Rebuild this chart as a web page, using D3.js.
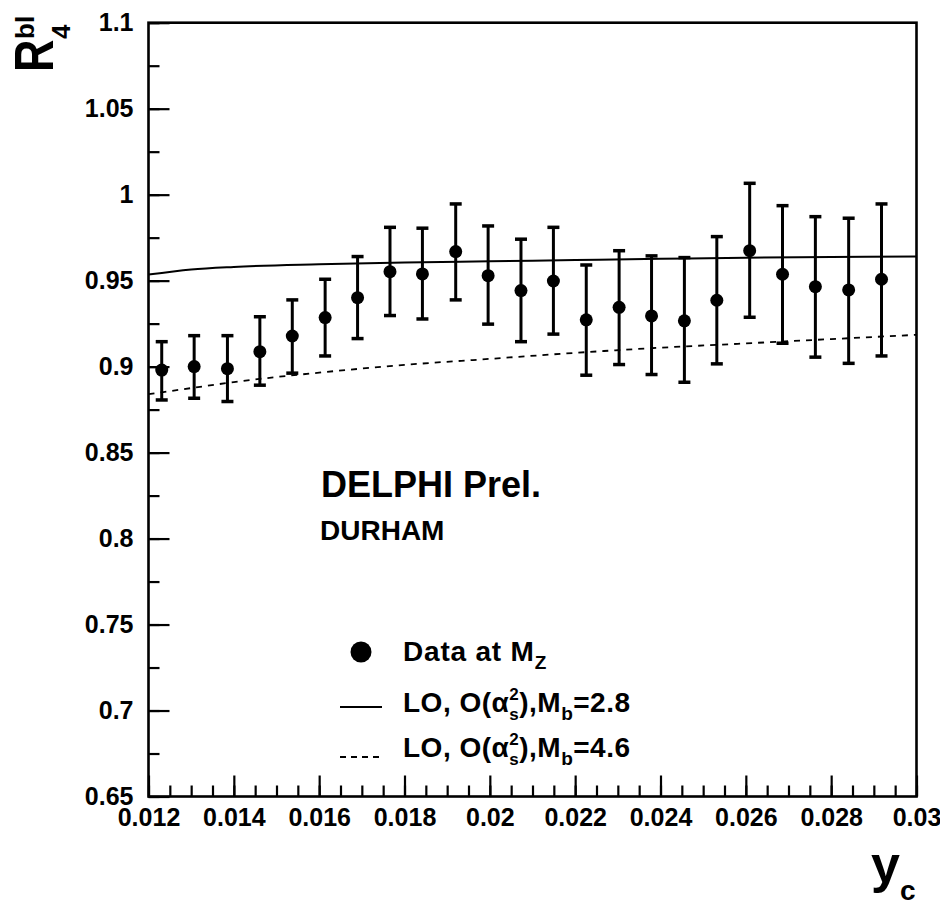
<!DOCTYPE html>
<html><head><meta charset="utf-8">
<script src="https://cdn.jsdelivr.net/npm/d3@7/dist/d3.min.js"></script>
<style>
body{margin:0;background:#fff}
text{font-family:"Liberation Sans",Arial,Helvetica,sans-serif;fill:#000}
</style>
</head><body>
<svg id="c" width="940" height="916"></svg>
<script>
// ---- data ----
const ycValues = [0.01231,0.01307,0.01385,0.01461,0.01537,0.01614,0.01690,0.01766,0.01842,0.01920,0.01996,0.02073,0.02149,0.02226,0.02303,0.02379,0.02456,0.02532,0.02609,0.02686,0.02763,0.02841,0.02918];
const r4Values = [0.898,0.900,0.8988,0.9087,0.9178,0.9285,0.9401,0.9552,0.9539,0.9669,0.9529,0.9442,0.9498,0.9272,0.9345,0.9295,0.9266,0.9386,0.9674,0.9537,0.9465,0.9446,0.9508];
const errHigh  = [0.9145,0.918,0.918,0.929,0.9388,0.9508,0.964,0.981,0.9805,0.9946,0.9818,0.9741,0.981,0.9591,0.9674,0.9644,0.9634,0.9756,1.0066,0.9936,0.9872,0.9863,0.9946];
const errLow   = [0.8806,0.8816,0.8797,0.8892,0.8962,0.9062,0.9163,0.9297,0.9277,0.9388,0.9247,0.9145,0.9189,0.895,0.9012,0.8954,0.8909,0.9016,0.9287,0.9136,0.9055,0.9019,0.9062];
const curveX    = [0.012,0.013,0.014,0.016,0.018,0.020,0.022,0.024,0.026,0.028,0.030];
const curveMb28 = [0.9535,0.9565,0.9580,0.9595,0.9605,0.9612,0.9620,0.9627,0.9633,0.9637,0.9640];
const curveMb46 = [0.8840,0.8875,0.8910,0.8965,0.9010,0.9045,0.9080,0.9110,0.9135,0.9160,0.9185];
const xTicks = [0.012,0.014,0.016,0.018,0.020,0.022,0.024,0.026,0.028,0.030];
const xTickLabels = ["0.012","0.014","0.016","0.018","0.02","0.022","0.024","0.026","0.028","0.03"];
const xMinorTicks = d3.range(0,37).map(i=>0.012+i*0.0005);
const yTicks = [0.65,0.70,0.75,0.80,0.85,0.90,0.95,1.00,1.05,1.10];
const yTickLabels = ["0.65","0.7","0.75","0.8","0.85","0.9","0.95","1","1.05","1.1"];
const yMinorTicks = d3.range(0,19).map(i=>0.65+i*0.025);

// ---- chart ----
const svg = d3.select("#c");
const L=148.5, R=916.5, T=22.7, B=796.5;
const x = d3.scaleLinear().domain([0.012,0.03]).range([L,R]);
const y = d3.scaleLinear().domain([0.65,1.1]).range([B,T]);

function styleAxis(g){
  g.select(".domain").remove();
  g.selectAll(".tick line").attr("stroke","#000").attr("stroke-width",2.2);
  g.selectAll("text").attr("font-family",'"Liberation Sans",Arial,sans-serif')
    .attr("font-size",25).attr("font-weight","bold").attr("fill","#000");
}

// minor ticks
svg.append("g").attr("transform",`translate(0,${B})`)
  .call(d3.axisBottom(x).tickValues(xMinorTicks).tickSize(-11).tickFormat(""))
  .call(styleAxis);
svg.append("g").attr("transform",`translate(${L},0)`)
  .call(d3.axisLeft(y).tickValues(yMinorTicks).tickSize(-11).tickFormat(""))
  .call(styleAxis);
// major ticks
svg.append("g").attr("transform",`translate(0,${B})`)
  .call(d3.axisBottom(x).tickValues(xTicks).tickSize(-21).tickPadding(12)
        .tickFormat((d,i)=>xTickLabels[i]))
  .call(styleAxis);
svg.append("g").attr("transform",`translate(${L},0)`)
  .call(d3.axisLeft(y).tickValues(yTicks).tickSize(-21).tickPadding(15)
        .tickFormat((d,i)=>yTickLabels[i]))
  .call(styleAxis);

// frame
svg.append("rect").attr("x",L).attr("y",T).attr("width",R-L).attr("height",B-T)
  .attr("fill","none").attr("stroke","#000").attr("stroke-width",2.6);

// curves
const line = d3.line().x(d=>x(d[0])).y(d=>y(d[1])).curve(d3.curveMonotoneX);
svg.append("path").datum(curveX.map((v,i)=>[v,curveMb28[i]]))
  .attr("d",line).attr("fill","none").attr("stroke","#000").attr("stroke-width",2);
svg.append("path").datum(curveX.map((v,i)=>[v,curveMb46[i]]))
  .attr("d",line).attr("fill","none").attr("stroke","#000").attr("stroke-width",1.8)
  .attr("stroke-dasharray","6,6");

// data with error bars
const pts = ycValues.map((v,i)=>({x:v,y:r4Values[i],hi:errHigh[i],lo:errLow[i]}));
const pg = svg.append("g");
pg.selectAll("line.eb").data(pts).join("line").attr("class","eb")
  .attr("x1",d=>x(d.x)).attr("x2",d=>x(d.x))
  .attr("y1",d=>y(d.lo)).attr("y2",d=>y(d.hi))
  .attr("stroke","#000").attr("stroke-width",3);
pg.selectAll("line.cap-h").data(pts).join("line").attr("class","cap-h")
  .attr("x1",d=>x(d.x)-6).attr("x2",d=>x(d.x)+6)
  .attr("y1",d=>y(d.hi)).attr("y2",d=>y(d.hi))
  .attr("stroke","#000").attr("stroke-width",3.5);
pg.selectAll("line.cap-l").data(pts).join("line").attr("class","cap-l")
  .attr("x1",d=>x(d.x)-6).attr("x2",d=>x(d.x)+6)
  .attr("y1",d=>y(d.lo)).attr("y2",d=>y(d.lo))
  .attr("stroke","#000").attr("stroke-width",3.5);
pg.selectAll("circle").data(pts).join("circle")
  .attr("cx",d=>x(d.x)).attr("cy",d=>y(d.y)).attr("r",6.5).attr("fill","#000");

// texts
svg.append("text").attr("x",321).attr("y",497).attr("font-size",36).attr("font-weight","bold")
  .text("DELPHI Prel.");
svg.append("text").attr("x",320).attr("y",540).attr("font-size",28).attr("font-weight","bold")
  .text("DURHAM");

// legend
const lg = svg.append("g");
lg.append("circle").attr("cx",361).attr("cy",652).attr("r",10.5).attr("fill","#000");
const t1 = lg.append("text").attr("x",403).attr("y",661).attr("font-size",28).attr("font-weight","bold")
  .attr("letter-spacing",0.8);
t1.append("tspan").text("Data at M");
t1.append("tspan").attr("font-size",19).attr("dy",8).text("Z");

lg.append("line").attr("x1",340).attr("x2",382).attr("y1",707).attr("y2",707)
  .attr("stroke","#000").attr("stroke-width",2);
lg.append("line").attr("x1",340).attr("x2",382).attr("y1",757).attr("y2",757)
  .attr("stroke","#000").attr("stroke-width",2).attr("stroke-dasharray","6,5");

function loLabel(yb, mb){
  const t = lg.append("text").attr("x",403).attr("y",yb).attr("font-size",28).attr("font-weight","bold")
    .attr("letter-spacing",0.5);
  t.append("tspan").text("LO, O(α");
  t.append("tspan").attr("font-size",17).attr("dy",8).text("s");
  t.append("tspan").attr("font-size",17).attr("dx",-10).attr("dy",-20).text("2");
  t.append("tspan").attr("dy",12).text("),M");
  t.append("tspan").attr("font-size",19).attr("dy",8).text("b");
  t.append("tspan").attr("dy",-8).text("="+mb);
}
loLabel(712,"2.8");
loLabel(757,"4.6");

// y axis title  R^{bl}_4
const yt = svg.append("g").attr("transform","translate(53,72) rotate(-90)");
yt.append("text").attr("transform","scale(0.8,1)").attr("font-size",56).attr("font-weight","bold").text("R");
yt.append("text").attr("x",33).attr("y",-19).attr("font-size",26).attr("font-weight","bold").text("bl");
yt.append("text").attr("x",33).attr("y",17).attr("font-size",26).attr("font-weight","bold").text("4");

// x axis title y_c
const xt = svg.append("text").attr("x",871).attr("y",882).attr("font-size",52).attr("font-weight","bold");
xt.append("tspan").text("y");
xt.append("tspan").attr("font-size",28).attr("dy",18).text("c");
</script>
</body></html>
